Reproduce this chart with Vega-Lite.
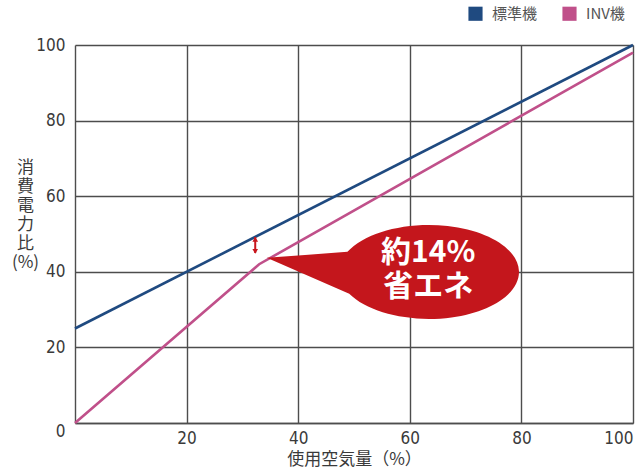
{
  "$schema": "https://vega.github.io/schema/vega-lite/v6.json",
  "width": 558,
  "height": 378,
  "autosize": {"type": "none"},
  "padding": {"left": 75, "top": 45, "right": 2, "bottom": 47},
  "background": "white",
  "config": {
    "view": {"stroke": null},
    "font": "Liberation Sans Narrow, DejaVu Sans Condensed, Roboto",
    "axis": {
      "gridColor": "#4d4d4d",
      "gridWidth": 1.4,
      "gridOpacity": 1,
      "domainColor": "#4d4d4d",
      "domainWidth": 1.4,
      "tickSize": 0,
      "labelFontSize": 17,
      "labelColor": "#3a3a3a",
      "titleFontWeight": "normal",
      "titleColor": "#3a3a3a",
      "titleFontSize": 17,
      "titleFont": "Noto Sans CJK JP"
    }
  },
  "datasets": {
    "lines": [
      {"series": "標準機", "air": 0, "power": 25},
      {"series": "標準機", "air": 100, "power": 100},
      {"series": "INV機", "air": 0, "power": 0},
      {"series": "INV機", "air": 33, "power": 42},
      {"series": "INV機", "air": 100, "power": 98}
    ],
    "bubble": [{"air": 63.4, "power": 40}],
    "label": [
      {"air": 63.3, "power": 45.0, "text": "約14%"},
      {"air": 63.3, "power": 36.0, "text": "省エネ"}
    ],
    "arrow": [{"air": 32.3, "top": 49.2, "bottom": 45.0}],
    "heads": [
      {"air": 32.3, "power": 48.6, "dir": "up"},
      {"air": 32.3, "power": 45.4, "dir": "down"}
    ]
  },
  "layer": [
    {
      "data": {"name": "lines"},
      "mark": {"type": "line", "strokeWidth": 2.6},
      "encoding": {
        "x": {
          "field": "air", "type": "quantitative",
          "scale": {"domain": [0, 100], "nice": false},
          "axis": {
            "values": [20, 40, 60, 80, 100],
            "title": "使用空気量（%）",
            "labelPadding": 7,
            "titlePadding": 5
          }
        },
        "y": {
          "field": "power", "type": "quantitative",
          "scale": {"domain": [0, 100], "nice": false},
          "axis": {
            "values": [0, 20, 40, 60, 80, 100],
            "labelPadding": 10,
            "labelBaseline": {"condition": {"test": "datum.value == 0", "value": "top"}, "value": "middle"},
            "title": ["消", "費", "電", "力", "比", "(%)"],
            "titleAngle": 0,
            "titleAlign": "center",
            "titleBaseline": "middle",
            "titleLineHeight": 19,
            "titleX": -50,
            "titleY": 122
          }
        },
        "color": {
          "field": "series", "type": "nominal",
          "scale": {"domain": ["標準機", "INV機"], "range": ["#1f4a80", "#c0508a"]},
          "legend": {
            "orient": "none",
            "legendX": 393,
            "legendY": -39,
            "direction": "horizontal",
            "title": null,
            "symbolType": "square",
            "symbolSize": 200,
            "labelFontSize": 15,
            "labelFont": "Noto Sans CJK JP",
            "labelColor": "#555555",
            "columnPadding": 24,
            "labelOffset": 9,
            "encode": {
              "symbols": {"update": {"fill": {"scale": "color", "field": "value"}, "strokeWidth": {"value": 0}, "fillOpacity": {"value": 1}}}
            }
          }
        }
      }
    },
    {
      "data": {"name": "bubble"},
      "mark": {
        "type": "point",
        "filled": true,
        "opacity": 1,
        "color": "#c4161c",
        "size": 104976,
        "shape": "M -1 -0.086 L -0.502 -0.123 A 0.556 0.29 0 1 1 -0.491 0.136 Z"
      },
      "encoding": {
        "x": {"field": "air", "type": "quantitative"},
        "y": {"field": "power", "type": "quantitative"}
      }
    },
    {
      "data": {"name": "label"},
      "mark": {"type": "text", "color": "white", "fontSize": 30, "fontWeight": "bold", "font": "Noto Sans CJK JP", "baseline": "middle", "align": "center"},
      "encoding": {
        "x": {"field": "air", "type": "quantitative"},
        "y": {"field": "power", "type": "quantitative"},
        "text": {"field": "text"}
      }
    },
    {
      "data": {"name": "arrow"},
      "mark": {"type": "rule", "color": "#c8161d", "strokeWidth": 2},
      "encoding": {
        "x": {"field": "air", "type": "quantitative"},
        "y": {"field": "top", "type": "quantitative"},
        "y2": {"field": "bottom"}
      }
    },
    {
      "data": {"name": "heads"},
      "mark": {"type": "point", "filled": true, "opacity": 1, "color": "#c8161d", "size": 32},
      "encoding": {
        "x": {"field": "air", "type": "quantitative"},
        "y": {"field": "power", "type": "quantitative"},
        "shape": {"field": "dir", "type": "nominal", "scale": {"domain": ["up", "down"], "range": ["triangle-up", "triangle-down"]}, "legend": null}
      }
    }
  ]
}
